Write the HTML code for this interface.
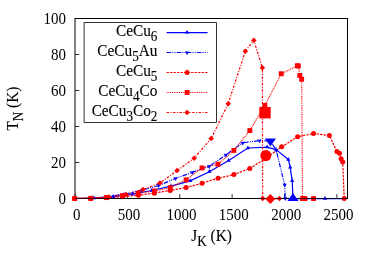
<!DOCTYPE html><html><head><meta charset="utf-8"><title>chart</title><style>
html,body{margin:0;padding:0;background:#fff}
body{width:375px;height:263px;position:relative;overflow:hidden}
</style></head><body>
<svg width="375" height="263" viewBox="0 0 375 263" style="position:absolute;left:0;top:0;will-change:transform">
<rect width="375" height="263" fill="#fff"/>
<rect x="75.0" y="18.5" width="272.5" height="180.0" fill="none" stroke="#000" stroke-width="1"/>
<line x1="75.00" y1="198.5" x2="75.00" y2="194.1" stroke="#000" stroke-width="0.8"/>
<line x1="127.38" y1="198.5" x2="127.38" y2="194.1" stroke="#000" stroke-width="0.8"/>
<line x1="179.76" y1="198.5" x2="179.76" y2="194.1" stroke="#000" stroke-width="0.8"/>
<line x1="232.14" y1="198.5" x2="232.14" y2="194.1" stroke="#000" stroke-width="0.8"/>
<line x1="284.52" y1="198.5" x2="284.52" y2="194.1" stroke="#000" stroke-width="0.8"/>
<line x1="336.90" y1="198.5" x2="336.90" y2="194.1" stroke="#000" stroke-width="0.8"/>
<line x1="75.0" y1="198.50" x2="79.4" y2="198.50" stroke="#000" stroke-width="0.8"/>
<line x1="75.0" y1="162.50" x2="79.4" y2="162.50" stroke="#000" stroke-width="0.8"/>
<line x1="75.0" y1="126.50" x2="79.4" y2="126.50" stroke="#000" stroke-width="0.8"/>
<line x1="75.0" y1="90.50" x2="79.4" y2="90.50" stroke="#000" stroke-width="0.8"/>
<line x1="75.0" y1="54.50" x2="79.4" y2="54.50" stroke="#000" stroke-width="0.8"/>
<line x1="75.0" y1="18.50" x2="79.4" y2="18.50" stroke="#000" stroke-width="0.8"/>
<polyline points="74.7,198.5 94.0,198.0 113.2,196.6 132.4,194.1 151.7,190.5 170.9,186.2 190.2,180.8 209.4,171.7 228.7,160.5 247.9,148.0 267.2,147.2 276.0,149.6 288.4,159.5 290.2,167.4 292.2,180.8 293.0,198.5 305.7,198.5 324.9,198.5 344.2,198.5" fill="none" stroke="#0000ff" stroke-width="1.25"/>
<polyline points="74.7,198.5 91.5,198.1 108.3,196.6 125.1,194.0 141.9,190.3 158.7,185.5 175.5,178.5 192.3,172.3 209.1,166.4 225.9,154.8 242.7,142.8 259.5,140.6 270.4,140.9 276.3,150.4 284.7,185.0 285.3,198.5 293.1,198.5" fill="none" stroke="#0000ff" stroke-width="1.2" stroke-dasharray="4.5,1.2,1,1.2,1,1.2"/>
<polyline points="74.7,198.5 90.6,198.4 106.5,197.8 122.5,196.7 138.4,195.2 154.3,193.2 170.2,190.4 186.1,187.6 202.1,183.2 218.0,178.2 233.9,174.6 249.8,168.4 265.7,158.5 281.7,146.8 297.6,136.8 313.5,133.5 329.4,135.5 336.9,151.6 339.5,153.2 341.1,158.7 342.7,161.9 344.2,198.5" fill="none" stroke="#ff0000" stroke-width="1.25" stroke-dasharray="2.3,1.2"/>
<polyline points="74.7,198.5 90.6,198.3 106.5,197.5 122.5,195.7 138.4,193.3 154.3,190.9 170.2,187.7 186.1,179.8 202.1,167.9 218.0,164.2 233.9,150.4 249.8,130.5 264.8,105.5 281.2,73.8 297.3,65.8 298.4,65.9 299.9,75.4 301.7,79.2 302.5,198.5 304.9,198.5 313.5,198.5" fill="none" stroke="#ff0000" stroke-width="1.2" stroke-dasharray="0.9,0.9"/>
<polyline points="74.7,198.5 91.8,198.3 108.8,197.1 125.9,194.4 142.9,189.6 160.0,183.0 177.1,170.6 194.1,158.2 211.2,138.5 228.2,103.7 245.3,51.3 253.8,40.4 262.4,67.7 262.6,198.5 279.4,198.5" fill="none" stroke="#ff0000" stroke-width="1.25" stroke-dasharray="2.4,1.5,1.0,1.5"/>
<polygon points="74.7,195.9 72.5,199.7 76.9,199.7" fill="#0000ff"/>
<polygon points="94.0,195.4 91.8,199.2 96.1,199.2" fill="#0000ff"/>
<polygon points="113.2,194.0 111.0,197.8 115.4,197.8" fill="#0000ff"/>
<polygon points="132.4,191.5 130.3,195.2 134.6,195.2" fill="#0000ff"/>
<polygon points="151.7,187.9 149.5,191.7 153.8,191.7" fill="#0000ff"/>
<polygon points="170.9,183.6 168.8,187.3 173.1,187.3" fill="#0000ff"/>
<polygon points="190.2,178.2 188.0,182.0 192.3,182.0" fill="#0000ff"/>
<polygon points="209.4,169.1 207.3,172.8 211.6,172.8" fill="#0000ff"/>
<polygon points="228.7,157.9 226.5,161.7 230.8,161.7" fill="#0000ff"/>
<polygon points="247.9,145.4 245.8,149.2 250.1,149.2" fill="#0000ff"/>
<polygon points="267.2,144.6 265.1,148.3 269.3,148.3" fill="#0000ff"/>
<polygon points="276.0,147.0 273.9,150.8 278.1,150.8" fill="#0000ff"/>
<polygon points="288.4,156.9 286.2,160.7 290.5,160.7" fill="#0000ff"/>
<polygon points="290.2,164.8 288.1,168.6 292.3,168.6" fill="#0000ff"/>
<polygon points="292.2,178.2 290.1,182.0 294.3,182.0" fill="#0000ff"/>
<polygon points="293.0,195.9 290.9,199.7 295.1,199.7" fill="#0000ff"/>
<polygon points="305.7,195.9 303.6,199.7 307.8,199.7" fill="#0000ff"/>
<polygon points="324.9,195.9 322.8,199.7 327.1,199.7" fill="#0000ff"/>
<polygon points="344.2,195.9 342.1,199.7 346.3,199.7" fill="#0000ff"/>
<polygon points="74.7,201.1 72.5,197.3 76.9,197.3" fill="#0000ff"/>
<polygon points="91.5,200.7 89.3,196.9 93.7,196.9" fill="#0000ff"/>
<polygon points="108.3,199.2 106.2,195.4 110.5,195.4" fill="#0000ff"/>
<polygon points="125.1,196.6 123.0,192.8 127.3,192.8" fill="#0000ff"/>
<polygon points="141.9,192.9 139.8,189.2 144.1,189.2" fill="#0000ff"/>
<polygon points="158.7,188.1 156.5,184.3 160.8,184.3" fill="#0000ff"/>
<polygon points="175.5,181.1 173.3,177.3 177.7,177.3" fill="#0000ff"/>
<polygon points="192.3,174.9 190.2,171.2 194.5,171.2" fill="#0000ff"/>
<polygon points="209.1,169.0 207.0,165.2 211.3,165.2" fill="#0000ff"/>
<polygon points="225.9,157.4 223.8,153.7 228.1,153.7" fill="#0000ff"/>
<polygon points="242.7,145.4 240.5,141.7 244.8,141.7" fill="#0000ff"/>
<polygon points="259.5,143.2 257.4,139.4 261.6,139.4" fill="#0000ff"/>
<polygon points="270.4,143.5 268.2,139.8 272.5,139.8" fill="#0000ff"/>
<polygon points="276.3,153.0 274.2,149.2 278.4,149.2" fill="#0000ff"/>
<polygon points="284.7,187.6 282.6,183.8 286.8,183.8" fill="#0000ff"/>
<polygon points="285.3,201.1 283.2,197.3 287.4,197.3" fill="#0000ff"/>
<polygon points="293.1,201.1 291.0,197.3 295.2,197.3" fill="#0000ff"/>
<circle cx="74.7" cy="198.5" r="2.5" fill="#ff0000"/>
<circle cx="90.6" cy="198.4" r="2.5" fill="#ff0000"/>
<circle cx="106.5" cy="197.8" r="2.5" fill="#ff0000"/>
<circle cx="122.5" cy="196.7" r="2.5" fill="#ff0000"/>
<circle cx="138.4" cy="195.2" r="2.5" fill="#ff0000"/>
<circle cx="154.3" cy="193.2" r="2.5" fill="#ff0000"/>
<circle cx="170.2" cy="190.4" r="2.5" fill="#ff0000"/>
<circle cx="186.1" cy="187.6" r="2.5" fill="#ff0000"/>
<circle cx="202.1" cy="183.2" r="2.5" fill="#ff0000"/>
<circle cx="218.0" cy="178.2" r="2.5" fill="#ff0000"/>
<circle cx="233.9" cy="174.6" r="2.5" fill="#ff0000"/>
<circle cx="249.8" cy="168.4" r="2.5" fill="#ff0000"/>
<circle cx="265.7" cy="158.5" r="2.5" fill="#ff0000"/>
<circle cx="281.7" cy="146.8" r="2.5" fill="#ff0000"/>
<circle cx="297.6" cy="136.8" r="2.5" fill="#ff0000"/>
<circle cx="313.5" cy="133.5" r="2.5" fill="#ff0000"/>
<circle cx="329.4" cy="135.5" r="2.5" fill="#ff0000"/>
<circle cx="336.9" cy="151.6" r="2.5" fill="#ff0000"/>
<circle cx="339.5" cy="153.2" r="2.5" fill="#ff0000"/>
<circle cx="341.1" cy="158.7" r="2.5" fill="#ff0000"/>
<circle cx="342.7" cy="161.9" r="2.5" fill="#ff0000"/>
<circle cx="344.2" cy="198.5" r="2.5" fill="#ff0000"/>
<rect x="72.2" y="196.1" width="4.9" height="4.9" fill="#ff0000"/>
<rect x="88.2" y="195.9" width="4.9" height="4.9" fill="#ff0000"/>
<rect x="104.1" y="195.1" width="4.9" height="4.9" fill="#ff0000"/>
<rect x="120.0" y="193.2" width="4.9" height="4.9" fill="#ff0000"/>
<rect x="135.9" y="190.9" width="4.9" height="4.9" fill="#ff0000"/>
<rect x="151.9" y="188.5" width="4.9" height="4.9" fill="#ff0000"/>
<rect x="167.8" y="185.2" width="4.9" height="4.9" fill="#ff0000"/>
<rect x="183.7" y="177.4" width="4.9" height="4.9" fill="#ff0000"/>
<rect x="199.6" y="165.5" width="4.9" height="4.9" fill="#ff0000"/>
<rect x="215.5" y="161.8" width="4.9" height="4.9" fill="#ff0000"/>
<rect x="231.4" y="148.0" width="4.9" height="4.9" fill="#ff0000"/>
<rect x="247.4" y="128.1" width="4.9" height="4.9" fill="#ff0000"/>
<rect x="262.4" y="103.0" width="4.9" height="4.9" fill="#ff0000"/>
<rect x="278.8" y="71.3" width="4.9" height="4.9" fill="#ff0000"/>
<rect x="294.9" y="63.3" width="4.9" height="4.9" fill="#ff0000"/>
<rect x="295.9" y="63.5" width="4.9" height="4.9" fill="#ff0000"/>
<rect x="297.4" y="73.0" width="4.9" height="4.9" fill="#ff0000"/>
<rect x="299.2" y="76.8" width="4.9" height="4.9" fill="#ff0000"/>
<rect x="300.1" y="196.1" width="4.9" height="4.9" fill="#ff0000"/>
<rect x="302.4" y="196.1" width="4.9" height="4.9" fill="#ff0000"/>
<rect x="311.1" y="196.1" width="4.9" height="4.9" fill="#ff0000"/>
<polygon points="74.7,195.8 77.5,198.5 74.7,201.2 72.0,198.5" fill="#ff0000"/>
<polygon points="91.8,195.6 94.5,198.3 91.8,201.1 89.0,198.3" fill="#ff0000"/>
<polygon points="108.8,194.3 111.6,197.1 108.8,199.8 106.1,197.1" fill="#ff0000"/>
<polygon points="125.9,191.7 128.6,194.4 125.9,197.2 123.1,194.4" fill="#ff0000"/>
<polygon points="142.9,186.8 145.7,189.6 142.9,192.3 140.2,189.6" fill="#ff0000"/>
<polygon points="160.0,180.2 162.8,183.0 160.0,185.8 157.2,183.0" fill="#ff0000"/>
<polygon points="177.1,167.8 179.8,170.6 177.1,173.3 174.3,170.6" fill="#ff0000"/>
<polygon points="194.1,155.4 196.9,158.2 194.1,160.9 191.4,158.2" fill="#ff0000"/>
<polygon points="211.2,135.8 213.9,138.5 211.2,141.2 208.4,138.5" fill="#ff0000"/>
<polygon points="228.2,101.0 231.0,103.7 228.2,106.5 225.5,103.7" fill="#ff0000"/>
<polygon points="245.3,48.5 248.1,51.3 245.3,54.0 242.6,51.3" fill="#ff0000"/>
<polygon points="253.8,37.6 256.6,40.4 253.8,43.1 251.1,40.4" fill="#ff0000"/>
<polygon points="262.4,65.0 265.1,67.7 262.4,70.5 259.6,67.7" fill="#ff0000"/>
<polygon points="262.6,195.8 265.4,198.5 262.6,201.2 259.9,198.5" fill="#ff0000"/>
<polygon points="279.4,195.8 282.2,198.5 279.4,201.2 276.7,198.5" fill="#ff0000"/>
<line x1="75.0" y1="198.5" x2="347.5" y2="198.5" stroke="#000" stroke-width="1" stroke-opacity="0.75"/>
<polygon points="293.0,192.9 287.4,201.0 298.6,201.0" fill="#0000ff"/>
<polygon points="270.4,146.5 264.8,138.4 276.0,138.4" fill="#0000ff"/>
<circle cx="265.8" cy="155.5" r="5.5" fill="#ff0000"/>
<rect x="259.3" y="107.0" width="11.4" height="11.4" fill="#ff0000"/>
<polygon points="270.3,194.0 275.3,199.0 270.3,204.0 265.3,199.0" fill="#ff0000"/>
<rect x="84.1" y="22.6" width="132.4" height="99.8" fill="#fff" stroke="#000" stroke-width="0.8"/>
<line x1="166.6" y1="32.5" x2="207.6" y2="32.5" stroke="#0000ff" stroke-width="1.25"/>
<polygon points="187.1,29.9 184.9,33.6 189.2,33.6" fill="#0000ff"/>
<line x1="166.6" y1="52.5" x2="207.6" y2="52.5" stroke="#0000ff" stroke-width="1.1" stroke-dasharray="4.5,1.2,1,1.2,1,1.2"/>
<polygon points="187.1,55.1 184.9,51.4 189.2,51.4" fill="#0000ff"/>
<line x1="166.6" y1="72.5" x2="207.6" y2="72.5" stroke="#ff0000" stroke-width="1.1" stroke-dasharray="2.3,1.2"/>
<circle cx="187.1" cy="72.5" r="2.5" fill="#ff0000"/>
<line x1="166.6" y1="92.5" x2="207.6" y2="92.5" stroke="#ff0000" stroke-width="1.1" stroke-dasharray="0.9,0.9"/>
<rect x="184.7" y="90.0" width="4.9" height="4.9" fill="#ff0000"/>
<line x1="166.6" y1="112.5" x2="207.6" y2="112.5" stroke="#ff0000" stroke-width="1.1" stroke-dasharray="2.4,1.5,1.0,1.5"/>
<polygon points="187.1,109.8 189.8,112.5 187.1,115.2 184.3,112.5" fill="#ff0000"/>
<g style="font-family:'Liberation Serif',serif" font-size="15.30" fill="#000" stroke="#000" stroke-width="0.12">
<text transform="translate(66.0,204.3) scale(1,1.065)" text-anchor="end" font-size="15.00" stroke="none">0</text>
<text transform="translate(66.0,168.3) scale(1,1.065)" text-anchor="end" font-size="15.00" stroke="none">20</text>
<text transform="translate(66.0,132.3) scale(1,1.065)" text-anchor="end" font-size="15.00" stroke="none">40</text>
<text transform="translate(66.0,96.3) scale(1,1.065)" text-anchor="end" font-size="15.00" stroke="none">60</text>
<text transform="translate(66.0,60.3) scale(1,1.065)" text-anchor="end" font-size="15.00" stroke="none">80</text>
<text transform="translate(66.0,24.3) scale(1,1.065)" text-anchor="end" font-size="15.00" stroke="none">100</text>
<text transform="translate(76.7,219.6) scale(1,1.065)" text-anchor="middle" font-size="15.00" stroke="none">0</text>
<text transform="translate(129.1,219.6) scale(1,1.065)" text-anchor="middle" font-size="15.00" stroke="none">500</text>
<text transform="translate(181.5,219.6) scale(1,1.065)" text-anchor="middle" font-size="15.00" stroke="none">1000</text>
<text transform="translate(233.8,219.6) scale(1,1.065)" text-anchor="middle" font-size="15.00" stroke="none">1500</text>
<text transform="translate(286.2,219.6) scale(1,1.065)" text-anchor="middle" font-size="15.00" stroke="none">2000</text>
<text transform="translate(338.6,219.6) scale(1,1.065)" text-anchor="middle" font-size="15.00" stroke="none">2500</text>
<text transform="translate(157.4,35.9) scale(1,1.045)" text-anchor="end">CeCu<tspan font-size="13.16" dy="4.67">6</tspan><tspan dy="-4.67"></tspan></text>
<text transform="translate(157.4,55.9) scale(1,1.045)" text-anchor="end">CeCu<tspan font-size="13.16" dy="4.67">5</tspan><tspan dy="-4.67">Au</tspan></text>
<text transform="translate(157.4,75.9) scale(1,1.045)" text-anchor="end">CeCu<tspan font-size="13.16" dy="4.67">5</tspan><tspan dy="-4.67"></tspan></text>
<text transform="translate(157.4,95.9) scale(1,1.045)" text-anchor="end">CeCu<tspan font-size="13.16" dy="4.67">4</tspan><tspan dy="-4.67">Co</tspan></text>
<text transform="translate(157.4,115.9) scale(1,1.045)" text-anchor="end">CeCu<tspan font-size="13.16" dy="4.67">3</tspan><tspan dy="-4.67">Co</tspan><tspan font-size="13.16" dy="4.67">2</tspan><tspan dy="-4.67"></tspan></text>
<text transform="translate(211.5,241.0) scale(1,1.045)" text-anchor="middle">J<tspan font-size="13.16" dy="4.67">K</tspan><tspan dy="-4.67"> (K)</tspan></text>
<text transform="translate(17.7,108.6) rotate(-90) scale(1,1.045)" text-anchor="middle">T<tspan font-size="13.16" dy="4.67">N</tspan><tspan dy="-4.67"> (K)</tspan></text>
</g>
</svg>
</body></html>
